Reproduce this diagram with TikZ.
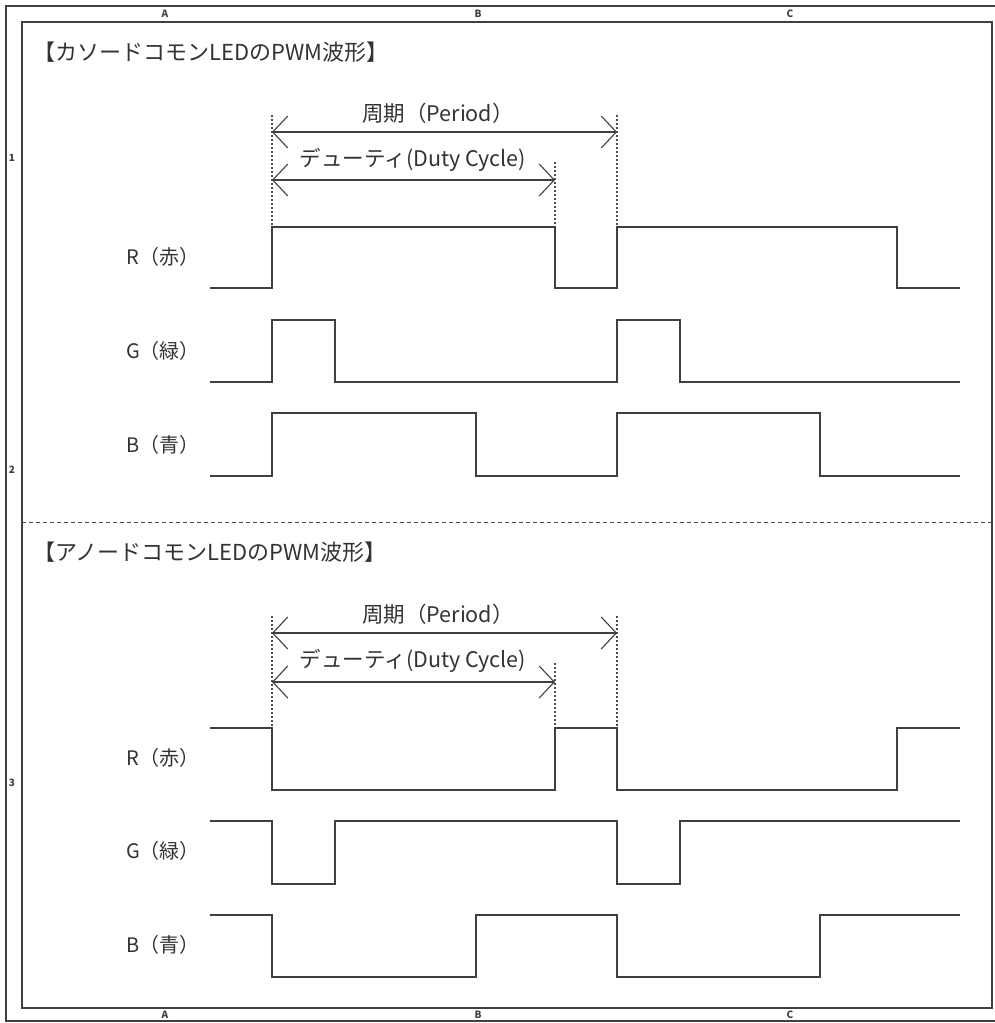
\documentclass[tikz,border=0pt]{standalone}
\usepackage{fontspec}
\setmainfont{Noto Sans CJK JP}
\usetikzlibrary{arrows.meta}
\tikzset{
  frame/.style={line width=1.4pt, draw=black!75},
  wave/.style={line width=1.4pt, draw=black!75},
  guide/.style={line width=1.1pt, draw=black!70, dash pattern=on 2pt off 2pt},
  divider/.style={line width=1pt, draw=black!70, dash pattern=on 4pt off 3pt},
  dim/.style={line width=1.1pt, draw=black!75, {Straight Barb[length=15pt,width=32pt]}-{Straight Barb[length=15pt,width=32pt]}},
  title/.style={anchor=west, inner sep=0pt, font=\fontsize{22}{22}\selectfont, text=black!80},
  lbl/.style={inner sep=0pt, font=\fontsize{21.5}{21.5}\selectfont, text=black!80},
  sig/.style={inner sep=0pt, font=\fontsize{20}{20}\selectfont, text=black!80},
  grid/.style={inner sep=0pt, font=\fontsize{10}{10}\selectfont\bfseries, text=black!75}
}
\begin{document}
\begin{tikzpicture}[x=1pt,y=-1pt]
\useasboundingbox (0,0) rectangle (994,1023);
\fill[white] (0,0) rectangle (994,1023);
% frames
\draw[frame] (6,6) rectangle (1000,1021);
\draw[frame] (22,22) rectangle (992,1008);
% grid labels
\foreach \n/\x in {A/165,B/478,C/790}{
  \node[grid] (top\n) at (\x,14) {\n};
  \node[grid] (bot\n) at (\x,1015) {\n};
}
\node[grid] (row1) at (12,158) {1};
\node[grid] (row2) at (12,470) {2};
\node[grid] (row3) at (12,783) {3};
% divider
\coordinate (dl) at (22,522);
\coordinate (dr) at (992,522);
\draw[divider] (dl) -- (dr);

% ===== top section =====
\node[title] (t1) at (33,52) {【カソードコモンLEDのPWM波形】};
\coordinate (p1a) at (272,132); \coordinate (p1b) at (617,132);
\coordinate (d1a) at (272,180); \coordinate (d1b) at (555,180);
\draw[guide] (272,115) -- (272,228);
\draw[guide] (555,162) -- (555,228);
\draw[guide] (617,115) -- (617,228);
\draw[dim] (p1a) -- (p1b);
\draw[dim] (d1a) -- (d1b);
\node[lbl] (per1) at (438,113) {周期（Period）};
\node[lbl] (duty1) at (413,160) {デューティ(Duty Cycle)};
\node[sig] (r1) at (163,257) {R（赤）};
\node[sig] (g1) at (163,351) {G（緑）};
\node[sig] (b1) at (163,445) {B（青）};
\draw[wave] (210,288) -- (272,288) -- (272,227) -- (555,227) -- (555,288) -- (617,288) -- (617,227) -- (897,227) -- (897,288) -- (960,288);
\draw[wave] (210,382) -- (272,382) -- (272,320) -- (335,320) -- (335,382) -- (617,382) -- (617,320) -- (680,320) -- (680,382) -- (960,382);
\draw[wave] (210,476) -- (272,476) -- (272,413) -- (476,413) -- (476,476) -- (617,476) -- (617,413) -- (820,413) -- (820,476) -- (960,476);

% ===== bottom section =====
\node[title] (t2) at (33,552) {【アノードコモンLEDのPWM波形】};
\coordinate (p2a) at (272,633); \coordinate (p2b) at (617,633);
\coordinate (d2a) at (272,682); \coordinate (d2b) at (555,682);
\draw[guide] (272,616) -- (272,728);
\draw[guide] (555,663) -- (555,728);
\draw[guide] (617,616) -- (617,728);
\draw[dim] (p2a) -- (p2b);
\draw[dim] (d2a) -- (d2b);
\node[lbl] (per2) at (438,614) {周期（Period）};
\node[lbl] (duty2) at (413,661) {デューティ(Duty Cycle)};
\node[sig] (r2) at (163,758) {R（赤）};
\node[sig] (g2) at (163,851) {G（緑）};
\node[sig] (b2) at (163,945) {B（青）};
\draw[wave] (210,728) -- (272,728) -- (272,790) -- (555,790) -- (555,728) -- (617,728) -- (617,790) -- (897,790) -- (897,728) -- (960,728);
\draw[wave] (210,821) -- (272,821) -- (272,884) -- (335,884) -- (335,821) -- (617,821) -- (617,884) -- (680,884) -- (680,821) -- (960,821);
\draw[wave] (210,915) -- (272,915) -- (272,977) -- (476,977) -- (476,915) -- (617,915) -- (617,977) -- (820,977) -- (820,915) -- (960,915);
\end{tikzpicture}
\end{document}
